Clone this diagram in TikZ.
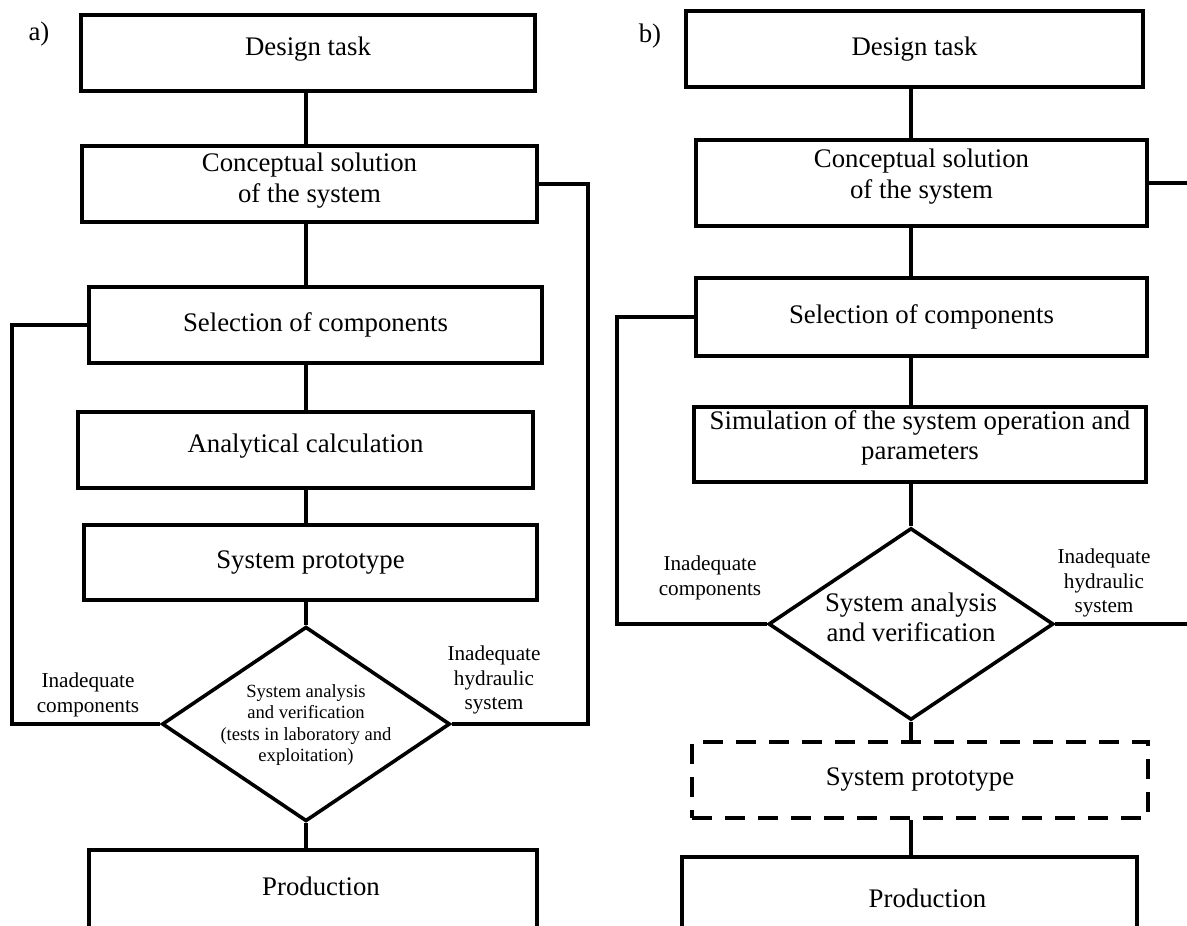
\documentclass[tikz,border=0pt]{standalone}
\usepackage{fontspec}
\setmainfont{Liberation Serif}
\usetikzlibrary{shapes.geometric}
\newcommand\boxfnt{\fontsize{26.8}{30.5}\selectfont}
\newcommand\notefnt{\fontsize{21.2}{24.5}\selectfont}
\newcommand\diafnt{\fontsize{18.6}{21.4}\selectfont}
\tikzset{
	box/.style={draw, line width=3.6pt, inner sep=0pt, align=center, font=\boxfnt, minimum height=76pt},
	dbox/.style={box, dash pattern=on 20pt off 13pt},
	dia/.style={draw, diamond, aspect=1.48, line width=3.6pt, inner sep=0pt, align=center},
	note/.style={align=center, font=\notefnt},
	link/.style={line width=3.6pt},
	lift/.style={text depth=#1},
	lift/.default=13pt,
}
\begin{document}
\begin{tikzpicture}[x=1pt, y=-1pt]
	\useasboundingbox (0,0) rectangle (1187,926);
	\clip (0,0) rectangle (1187,926);
	% 左图 a)
	\node [font=\boxfnt] (labA) at (39,34) {a)};
	\node [box, lift, minimum width=454pt] (desA) at (308,53) {Design task};
	\node [box, lift, minimum width=455pt] (conA) at (309.5,184) {Conceptual solution\\of the system};
	\node [box, minimum width=453pt] (selA) at (315.5,325) {Selection of components};
	\node [box, lift, minimum width=455pt] (anaA) at (305.5,450) {Analytical calculation};
	\node [box, minimum width=453pt, minimum height=75pt] (proA) at (310.5,562.5) {System prototype};
	\node [dia, font=\diafnt, lift=2pt, minimum width=285pt, minimum height=192pt] (diaA) at (306,724) {System analysis\\and verification\\(tests in laboratory and\\exploitation)};
	\node [box, anchor=north, minimum width=448pt, text height=46pt, text depth=90pt] (prdA) at (313,848) {\hspace*{16pt}Production};
	% 连线
	\coordinate (colA) at (306,0);
	\draw [link] (desA.south -| colA) -- (conA.north -| colA);
	\draw [link] (conA.south -| colA) -- (selA.north -| colA);
	\draw [link] (selA.south -| colA) -- (anaA.north -| colA);
	\draw [link] (anaA.south -| colA) -- (proA.north -| colA);
	\draw [link] (proA.south -| colA) -- (diaA.north);
	\draw [link] (diaA.south) -- (prdA.north -| colA);
	% 反馈线
	\coordinate (lftA) at (12,724);
	\coordinate (rgtA) at (588,724);
	\draw [link] (diaA.west) -- (lftA) |- (selA.west);
	\draw [link] (diaA.east) -- (rgtA) |- (conA.east);
	\node [note] (inCA) at (88,695) {Inadequate\\components};
	\node [note] (inHA) at (494,680) {Inadequate\\hydraulic\\system};
	% 右图 b)
	\node [font=\boxfnt] (labB) at (650,36) {b)};
	\node [box, minimum width=457pt] (desB) at (914.5,49) {Design task};
	\node [box, lift=19pt, minimum width=451pt, minimum height=86pt] (conB) at (921.5,183) {Conceptual solution\\of the system};
	\node [box, minimum width=451pt, minimum height=78pt] (selB) at (921.5,317) {Selection of components};
	\node [box, lift=19pt, minimum width=452pt, minimum height=75pt] (simB) at (920,444.5) {Simulation of the system operation and\\parameters};
	\node [dia, font=\boxfnt, lift=14pt, minimum width=285pt, minimum height=192pt] (diaB) at (911,624) {System analysis\\and verification};
	\node [dbox, minimum width=456pt] (proB) at (920,780) {System prototype};
	\node [box, anchor=north, minimum width=455pt, text height=51pt, text depth=90pt] (prdB) at (909.5,855) {\hspace*{36pt}Production};
	% 连线
	\coordinate (colB) at (911,0);
	\draw [link] (desB.south -| colB) -- (conB.north -| colB);
	\draw [link] (conB.south -| colB) -- (selB.north -| colB);
	\draw [link] (selB.south -| colB) -- (simB.north -| colB);
	\draw [link] (simB.south -| colB) -- (diaB.north);
	\draw [link] (diaB.south) -- (proB.north -| colB);
	\draw [link] (proB.south -| colB) -- (prdB.north -| colB);
	% 反馈线
	\coordinate (lftB) at (617,624);
	\coordinate (rgtB) at (1195,624);
	\draw [link] (diaB.west) -- (lftB) |- (selB.west);
	\draw [link] (diaB.east) -- (rgtB);
	\draw [link] (conB.east) -- (conB.east -| rgtB);
	\node [note] (inCB) at (710,578) {Inadequate\\components};
	\node [note] (inHB) at (1104,583) {Inadequate\\hydraulic\\system};
\end{tikzpicture}
\end{document}
